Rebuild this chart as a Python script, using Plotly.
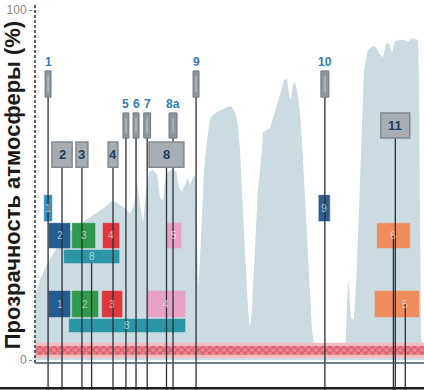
import plotly.graph_objects as go

# ---- atmospheric transmittance curve (wavelength nm, transparency %) ----
WL_CURVE = [399, 416, 443, 477, 507, 551, 601, 635, 658, 675, 685, 702, 719, 732, 742, 752,
            763, 773, 783, 796, 810, 820, 830, 840, 853, 874, 884, 894, 907, 914, 921, 934,
            941, 948, 954, 961, 968, 978, 988, 1005, 1038, 1055, 1065, 1075, 1082, 1089,
            1096, 1106, 1116, 1122, 1129, 1139, 1149, 1163, 1166, 1190, 1207, 1223, 1237,
            1247, 1254, 1260, 1267, 1274, 1281, 1291, 1301, 1311, 1321, 1331, 1338, 1345,
            1440, 1445, 1452, 1455, 1462, 1472, 1482, 1492, 1499, 1506, 1519, 1536, 1546,
            1560, 1570, 1580, 1590, 1600, 1610, 1627, 1640, 1654, 1667, 1677, 1688, 1691,
            1694, 1698, 1708]
TR_CURVE = [18.6, 22.9, 28, 32.6, 36, 38.9, 41.7, 43.7, 45.4, 44.9, 44.3, 43.4, 41.7, 44.3,
            51.4, 44.3, 39.4, 48.6, 53.7, 54.3, 53.1, 46.3, 45.7, 52.9, 54.3, 54, 49.1, 48,
            50.9, 52, 50, 52.9, 51.4, 20, 28.6, 42.9, 54.3, 62.9, 69.1, 70.6, 72, 72.6, 72,
            70, 67.1, 60, 47.1, 28.6, 14.3, 9.1, 14.3, 31.4, 48.6, 60, 65.1, 66.3, 70.9,
            75.7, 80, 80.3, 75.7, 74.3, 78.6, 79.4, 77.1, 70.6, 57.1, 40, 22.9, 8.6, 4.3,
            0.8, 0.8, 5.7, 22.9, 21.4, 12, 11.4, 25.7, 51.4, 68.6, 82.9, 88.6, 89.7, 89.4,
            87.1, 86.6, 90.3, 90.6, 87.7, 91.1, 91.4, 91.4, 90.9, 92, 91.7, 91.4, 80, 45.7,
            5.7, 4.3]

# ---- Sentinel-2 bands (grey) ----
S2_NAMES = ["1", "2", "3", "4", "5", "6", "7", "8", "8a", "9", "10", "11"]
S2_LO = [433, 456, 537, 645, 695, 729, 765, 783, 850, 931, 1361, 1563]
S2_HI = [453, 524, 577, 678, 715, 749, 788, 900, 877, 951, 1388, 1660]
S2_ROW = ["top", "low", "low", "low", "mid", "mid", "mid", "low", "mid", "top", "top", "mid"]

# ---- Landsat 8 bands ----
L8_NAMES = ["1", "2", "3", "4", "5", "6", "9", "8"]
L8_LO = [430, 446, 524, 628, 843, 1550, 1354, 497]
L8_HI = [456, 517, 601, 682, 890, 1660, 1391, 682]

# ---- Landsat 7 bands ----
L7_NAMES = ["1", "2", "3", "4", "5", "8"]
L7_LO = [446, 524, 625, 779, 1543, 514]
L7_HI = [517, 611, 692, 904, 1691, 904]

# ---- styling / layout constants ----
S2_ROWS = {"top": (75.1, 82.6), "mid": (63.4, 70.6), "low": (55.1, 62.3)}
L8_ROWS = {"1": (39.7, 47.1), "9": (39.7, 47.1), "8": (27.7, 31.4)}
L8_MAIN = (32.0, 39.1)
L7_ROWS = {"8": (8.0, 11.7)}
L7_MAIN = (12.3, 19.7)

C_DBLUE = "#245d92"
C_LBLUE = "#2f8fc6"
C_GREEN = "#2f9a4c"
C_RED = "#e0373d"
C_PINK = "#e6a1c4"
C_TEAL = "#2a96a8"
C_ORANGE = "#ef8c5c"
L8_COL = {"1": C_LBLUE, "2": C_DBLUE, "3": C_GREEN, "4": C_RED, "5": C_PINK,
          "6": C_ORANGE, "9": "#2b5f90", "8": C_TEAL}
L7_COL = {"1": C_DBLUE, "2": C_GREEN, "3": C_RED, "4": C_PINK, "5": C_ORANGE, "8": C_TEAL}

X_MIN, X_MAX = 392.3, 1708
Y_MIN, Y_MAX = -8.571, 102.857
FONT = "Liberation Sans, Arial, sans-serif"

fig = go.Figure()

# transmittance area
fig.add_trace(go.Scatter(x=WL_CURVE, y=TR_CURVE, mode="lines", fill="tozeroy",
                         line=dict(width=0, color="#cbdbe2"), fillcolor="#cbdbe2",
                         hoverinfo="skip", showlegend=False))

# pink hatched band
BX0, BX1 = 402, 1708
fig.add_trace(go.Scatter(x=[BX0, BX1, BX1, BX0, BX0], y=[0.6, 0.6, 4.9, 4.9, 0.6],
                         mode="lines", fill="toself", fillcolor="#f3bcc1",
                         line=dict(width=0), hoverinfo="skip", showlegend=False))
fig.add_trace(go.Scatter(x=[BX0, BX1, BX1, BX0, BX0], y=[1.5, 1.5, 4.0, 4.0, 1.5],
                         mode="lines", fill="toself", fillcolor="#e47e88",
                         fillpattern=dict(shape="x", fgcolor="#c22f40", bgcolor="#e8858f",
                                          size=5, solidity=0.4),
                         line=dict(width=0), hoverinfo="skip", showlegend=False))

shapes = []
annotations = []


def rect(x0, x1, y0, y1, fill, border, bw=1):
    shapes.append(dict(type="rect", xref="x", yref="y", x0=x0, x1=x1, y0=y0, y1=y1,
                       fillcolor=fill, line=dict(color=border, width=bw), layer="above"))


def vline(x, y0):
    shapes.append(dict(type="line", xref="x", yref="y", x0=x, x1=x, y0=y0, y1=Y_MIN,
                       line=dict(color="#2b2f33", width=1.3), layer="above"))


def label(x, y, text, color, size, bold=True, **kw):
    t = f"<b>{text}</b>" if bold else text
    annotations.append(dict(x=x, y=y, xref="x", yref="y", text=t, showarrow=False,
                            font=dict(family=FONT, size=size, color=color), **kw))


# colored Landsat 8 boxes
l8_centers = {}
for n, lo, hi in zip(L8_NAMES, L8_LO, L8_HI):
    y0, y1 = L8_ROWS.get(n, L8_MAIN)
    rect(lo, hi, y0, y1, L8_COL[n], L8_COL[n], 0.5)
    label((lo + hi) / 2, (y0 + y1) / 2, n, "rgba(255,255,255,0.6)", 10, bold=False)
    l8_centers[n] = ((lo + hi) / 2, y0, y1)

# colored Landsat 7 boxes
L7_MARK = {"5": 1645}
l7_centers = {}
for n, lo, hi in zip(L7_NAMES, L7_LO, L7_HI):
    y0, y1 = L7_ROWS.get(n, L7_MAIN)
    rect(lo, hi, y0, y1, L7_COL[n], L7_COL[n], 0.5)
    cx = L7_MARK.get(n, (lo + hi) / 2)
    label(cx, (y0 + y1) / 2, n, "rgba(255,255,255,0.6)", 10, bold=False)
    l7_centers[n] = (cx, y0, y1)

# connector lines
for n, lo, hi, row in zip(S2_NAMES, S2_LO, S2_HI, S2_ROW):
    y0, y1 = S2_ROWS[row]
    vline((lo + hi) / 2, (y0 + y1) / 2)
vline(l8_centers["8"][0], l8_centers["8"][1])
vline(l8_centers["6"][0], (l8_centers["6"][1] + l8_centers["6"][2]) / 2)
vline(l7_centers["5"][0], (l7_centers["5"][1] + l7_centers["5"][2]) / 2)

# grey Sentinel-2 boxes
for n, lo, hi, row in zip(S2_NAMES, S2_LO, S2_HI, S2_ROW):
    y0, y1 = S2_ROWS[row]
    cx = (lo + hi) / 2
    if hi - lo >= 30:
        rect(lo, hi, y0, y1, "#a7adb3", "#838b92", 1.5)
        label(cx, (y0 + y1) / 2, n, "#1d3b5c", 13)
    else:
        rect(lo, hi, y0, y1, "#8e979e", "#6f787f", 1)
        shapes.append(dict(type="line", xref="x", yref="y", x0=cx, x1=cx,
                           y0=y0 + 1.5, y1=y1 - 1.5,
                           line=dict(color="rgba(255,255,255,0.35)", width=1.5),
                           layer="above"))
        label(cx, y1, n, "#2f7fb5", 12, yanchor="bottom", yshift=0)

# axes decorations
shapes.append(dict(type="line", xref="x", yref="y", x0=399, x1=1708, y0=-0.86, y1=-0.86,
                   line=dict(color="#3b5560", width=1.5), layer="above"))
shapes.append(dict(type="line", xref="x", yref="y", x0=399, x1=399, y0=-0.86, y1=101.4,
                   line=dict(color="#56626b", width=2, dash="3px,2px"), layer="above"))
shapes.append(dict(type="line", xref="paper", yref="y", x0=-0.1, x1=1.0, y0=-8.1, y1=-8.1,
                   line=dict(color="#1e1e1e", width=2.5), layer="above"))

annotations.append(dict(x=-0.0537, y=0.525, xref="paper", yref="paper",
                        xanchor="center", yanchor="middle",
                        text="<b>Прозрачность атмосферы (%)</b>", textangle=-90,
                        showarrow=False,
                        font=dict(family=FONT, size=22, color="#1a1a1a")))

fig.update_layout(
    width=424, height=390,
    margin=dict(l=33, r=0, t=0, b=0, autoexpand=False),
    paper_bgcolor="white", plot_bgcolor="white",
    shapes=shapes, annotations=annotations,
    showlegend=False,
    xaxis=dict(range=[X_MIN, X_MAX], visible=False, fixedrange=True, automargin=False),
    yaxis=dict(range=[Y_MIN, Y_MAX], tickvals=[0, 100], ticktext=["0", "100"],
               tickfont=dict(family=FONT, size=12, color="#8a8a8a"),
               ticks="outside", ticklen=3, tickcolor="#8a8a8a", automargin=False,
               showgrid=False, zeroline=False, showline=False, fixedrange=True),
)

fig.write_html("out.html", config={"displayModeBar": False},
               post_script="document.body.style.margin='0';document.body.style.overflow='hidden';")
